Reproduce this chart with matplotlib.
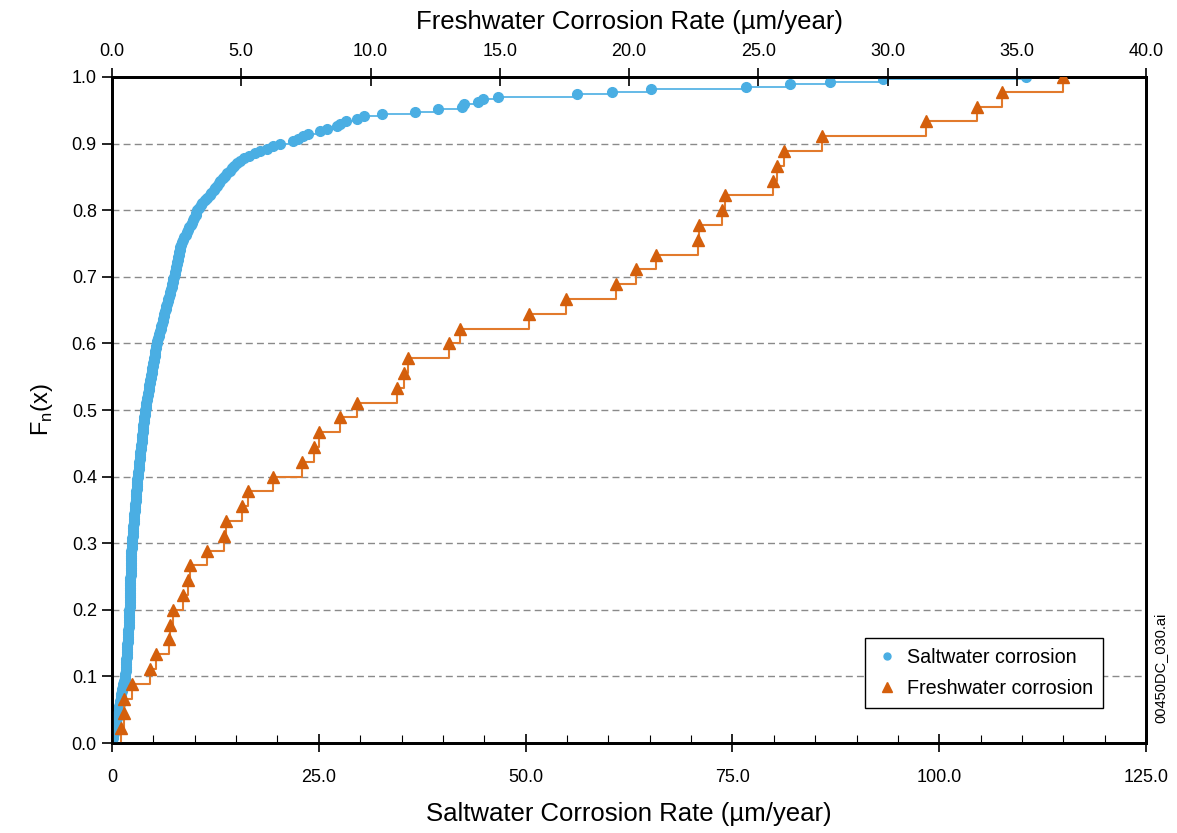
import numpy as np
import matplotlib
matplotlib.use("Agg")
import matplotlib.pyplot as plt
from matplotlib.ticker import MultipleLocator, FuncFormatter
from matplotlib.lines import Line2D

plt.rcParams['font.family'] = ['Liberation Sans', 'DejaVu Sans']

# Saltwater corrosion rates (um/year), sorted
salt_rates = [
    0.05, 0.1, 0.15, 0.2, 0.25, 0.3, 0.35, 0.42, 0.5, 0.55, 0.62, 0.7, 0.78,
    0.82, 0.88, 0.93, 0.98, 1.03, 1.08, 1.14, 1.2, 1.26, 1.32, 1.38, 1.45, 1.52, 1.6,
    1.62, 1.64, 1.66, 1.68, 1.70, 1.72, 1.74, 1.76, 1.78, 1.80, 1.82, 1.84, 1.86, 1.88,
    1.90, 1.92, 1.94, 1.96, 1.98, 2.00, 2.02, 2.04, 2.05, 2.06, 2.07, 2.08, 2.10,
    2.11, 2.12, 2.13, 2.14, 2.15, 2.16, 2.17, 2.18, 2.19, 2.20, 2.21, 2.22, 2.23, 2.24,
    2.25, 2.26, 2.27, 2.28, 2.29, 2.30, 2.31, 2.32, 2.34, 2.35, 2.36, 2.38, 2.40,
    2.42, 2.45, 2.48, 2.50, 2.53, 2.55, 2.58, 2.60, 2.63, 2.66, 2.68, 2.71, 2.74, 2.76,
    2.79, 2.82, 2.84, 2.87, 2.89, 2.92, 2.95, 2.97, 3.00, 3.02, 3.05, 3.07, 3.10,
    3.13, 3.17, 3.20, 3.23, 3.27, 3.30, 3.33, 3.37, 3.40, 3.43, 3.47, 3.50, 3.53, 3.57,
    3.60, 3.63, 3.67, 3.70, 3.73, 3.77, 3.80, 3.83, 3.87, 3.90, 3.93, 3.97, 4.00,
    4.05, 4.10, 4.16, 4.21, 4.26, 4.31, 4.36, 4.42, 4.47, 4.52, 4.57, 4.62, 4.68, 4.73,
    4.78, 4.83, 4.88, 4.94, 4.99, 5.04, 5.09, 5.14, 5.19, 5.24, 5.29, 5.35, 5.40,
    5.48, 5.56, 5.63, 5.71, 5.79, 5.87, 5.94, 6.02, 6.10, 6.18, 6.26, 6.33, 6.41, 6.49,
    6.57, 6.64, 6.72, 6.80, 6.88, 6.96, 7.03, 7.11, 7.19, 7.27, 7.34, 7.42, 7.50,
    7.56, 7.62, 7.68, 7.74, 7.80, 7.86, 7.92, 7.98, 8.04, 8.10, 8.16, 8.22, 8.30,
    8.45, 8.60, 8.75, 8.90, 9.05, 9.20, 9.35, 9.50, 9.65, 9.80, 9.95, 10.1, 10.2, 10.3,
    10.5, 10.7, 10.9, 11.2, 11.5, 11.8, 12.0, 12.3, 12.5, 12.7, 12.9, 13.1, 13.4,
    13.6, 13.9, 14.2, 14.5, 14.8, 15.1, 15.5, 16.0, 16.6, 17.3, 17.9, 18.7, 19.5, 20.3,
    21.9, 22.5, 23.1, 23.7, 25.1, 26.0, 27.2, 27.5, 28.3, 29.6, 30.5, 32.6, 36.6, 39.4,
    42.3, 42.6, 44.2, 44.9, 46.7, 56.2, 60.4, 65.2, 76.6, 82.0, 86.8, 93.2, 110.5,
]

# Freshwater corrosion rates (um/year), sorted
fresh_rates = [
    0.35, 0.46, 0.48, 0.77, 1.47, 1.70, 2.22, 2.26, 2.36, 2.74, 2.95, 3.00,
    3.67, 4.35, 4.40, 5.02, 5.26, 6.22, 7.34, 7.81, 8.00, 8.81, 9.47, 11.01,
    11.28, 11.44, 13.02, 13.45, 16.12, 17.58, 19.48, 20.25, 21.06, 22.65, 22.72,
    23.61, 23.73, 25.58, 25.74, 26.01, 27.48, 31.50, 33.47, 34.43, 36.79,
]

y_ticks = [0.0, 0.1, 0.2, 0.3, 0.4, 0.5, 0.6, 0.7, 0.8, 0.9, 1.0]
bottom_ticks = [0, 25, 50, 75, 100, 125]
top_ticks = [0, 5, 10, 15, 20, 25, 30, 35, 40]

BLUE = '#4aaee3'
ORANGE = '#d45f0c'
ORANGE_LINE = '#e27a2c'


def ecdf(vals):
    x = np.asarray(vals, dtype=float)
    n = len(x)
    F = np.arange(1, n + 1) / n
    return x, F


fig = plt.figure(figsize=(11.77, 8.33), dpi=100)
ax = fig.add_axes([0.0952, 0.108, 0.8785, 0.7996])
ax2 = ax.twiny()

# gridlines
for yv in y_ticks[1:-1]:
    ax.axhline(yv, color='#8a8a8a', lw=1.0, ls=(0, (5, 3)), zorder=0)

# saltwater (bottom axis)
xs, Fs = ecdf(salt_rates)
ax.step(np.r_[xs[0], xs], np.r_[0, Fs], where='post', color=BLUE, lw=1.2, zorder=2)
ax.plot(xs, Fs, 'o', color=BLUE, ms=7, mec=BLUE, zorder=3)

# freshwater (top axis)
xf, Ff = ecdf(fresh_rates)
ax2.step(np.r_[xf[0], xf], np.r_[0, Ff], where='post', color=ORANGE_LINE, lw=1.5, zorder=2)
ax2.plot(xf, Ff, '^', color=ORANGE, ms=8.5, mec=ORANGE, zorder=3)

ax.set_xlim(0, 125)
ax.set_ylim(0, 1.0)
ax2.set_xlim(0, 40)

ax.set_yticks(y_ticks)
ax.yaxis.set_major_formatter(FuncFormatter(lambda v, p: f"{v:.1f}"))
ax.set_xticks(bottom_ticks)
ax.xaxis.set_major_formatter(FuncFormatter(lambda v, p: "0" if v == 0 else f"{v:.1f}"))
ax.xaxis.set_minor_locator(MultipleLocator(5))
ax2.set_xticks(top_ticks)
ax2.xaxis.set_major_formatter(FuncFormatter(lambda v, p: f"{v:.1f}"))

ax.tick_params(axis='y', direction='out', length=7, width=1.2, labelsize=13, pad=4)
ax.tick_params(axis='x', which='major', direction='inout', length=13, width=1.2,
               labelsize=13, pad=12)
ax.tick_params(axis='x', which='minor', direction='in', length=6, width=0.8)
ax2.tick_params(axis='x', which='major', direction='inout', length=13, width=1.2,
                labelsize=13, pad=6)

for a in (ax, ax2):
    for s in a.spines.values():
        s.set_linewidth(2.0)
        s.set_color('black')

ax.set_xlabel('Saltwater Corrosion Rate (\u00b5m/year)', fontsize=18.5, labelpad=12)
ax2.set_xlabel('Freshwater Corrosion Rate (\u00b5m/year)', fontsize=18.5, labelpad=10)
ax.set_ylabel(r'F$_\mathregular{n}$(x)', fontsize=17, labelpad=12)

# legend
handles = [
    Line2D([], [], ls='none', marker='o', color=BLUE, ms=5),
    Line2D([], [], ls='none', marker='^', color=ORANGE, ms=6.5),
]
leg = ax.legend(handles, ['Saltwater corrosion', 'Freshwater corrosion'],
                loc='lower right', bbox_to_anchor=(0.958, 0.053), borderaxespad=0,
                fontsize=14.2, frameon=True, fancybox=False, edgecolor='black',
                framealpha=1, handletextpad=0.4, handlelength=1.2, borderpad=0.5,
                labelspacing=0.6)
leg.get_frame().set_linewidth(1.0)

fig.text(0.986, 0.198, '00450DC_030.ai', rotation=90, fontsize=10.5,
         ha='center', va='center')

fig.savefig('out.png', dpi=100)
